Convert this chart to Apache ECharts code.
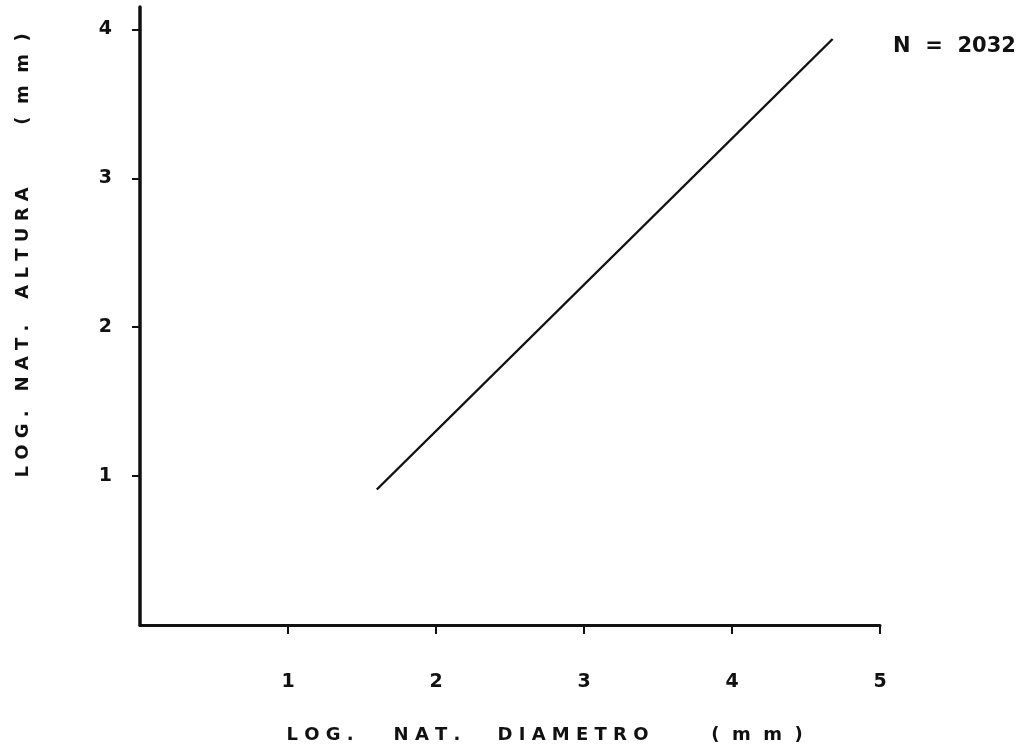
<!DOCTYPE html>
<html>
<head>
<meta charset="utf-8">
<script src="https://cdn.jsdelivr.net/npm/echarts@6/dist/echarts.min.js"></script>
<style>
  html, body { margin: 0; padding: 0; background: #fff; }
  #chart { width: 1031px; height: 748px; }
</style>
</head>
<body>
<div id="chart"></div>
<script>
// Fitted regression line: ln(altura) against ln(diametro)
const lineDiam = [1.60, 4.68];
const lineAltura = [0.91, 3.935];

// Tick labels shown on each axis
const xTicks = [1, 2, 3, 4, 5];
const yTicks = [1, 2, 3, 4];

// Axis titles, split into spaced words
const xTitleWords = ['L O G .', 'N A T .', 'D I A M E T R O', '(  m  m  )'];
const yTitleWords = ['L O G .', 'N A T .', 'A L T U R A', '(  m  m  )'];
const sampleNote = 'N  =  2032';

const FONT = '"DejaVu Sans", "Liberation Sans", sans-serif';
const INK = '#111';

const chart = echarts.init(document.getElementById('chart'), null, { renderer: 'canvas' });

const xTitleCenters = [320, 427, 573, 757];
const yTitleCenters = [444, 358, 243, 79];

const graphics = [];
xTitleWords.forEach((w, i) => {
  graphics.push({
    type: 'text', x: xTitleCenters[i], y: 735,
    style: { text: w, font: 'bold 18px ' + FONT, fill: INK, align: 'center', verticalAlign: 'middle' }
  });
});
yTitleWords.forEach((w, i) => {
  graphics.push({
    type: 'text', x: 23, y: yTitleCenters[i], rotation: Math.PI / 2,
    style: { text: w, font: 'bold 18px ' + FONT, fill: INK, align: 'center', verticalAlign: 'middle' }
  });
});
graphics.push({
  type: 'text', x: 893, y: 47,
  style: { text: sampleNote, font: 'bold 21px ' + FONT, fill: INK, align: 'left', verticalAlign: 'middle' }
});

chart.setOption({
  animation: false,
  backgroundColor: '#fff',
  grid: { left: 140, right: 151, top: 7, bottom: 123 },
  xAxis: {
    type: 'value', min: 0, max: 5, interval: 1,
    axisLine: { show: true, onZero: false, lineStyle: { color: INK, width: 3 } },
    axisTick: { show: true, customValues: xTicks, length: 9, lineStyle: { color: INK, width: 2 } },
    axisLabel: { customValues: xTicks, margin: 48, color: INK, fontSize: 19, fontWeight: 'bold', fontFamily: FONT },
    splitLine: { show: false }
  },
  yAxis: {
    type: 'value', min: 0, max: 4.15, interval: 1,
    axisLine: { show: true, onZero: false, lineStyle: { color: INK, width: 3.5 } },
    axisTick: { show: true, customValues: yTicks, length: 8, lineStyle: { color: INK, width: 2 } },
    axisLabel: { customValues: yTicks, margin: 28, color: INK, fontSize: 19, fontWeight: 'bold', fontFamily: FONT },
    splitLine: { show: false }
  },
  series: [{
    type: 'line',
    data: lineDiam.map((d, i) => [d, lineAltura[i]]),
    symbol: 'none',
    lineStyle: { color: INK, width: 2.4 },
    silent: true
  }],
  graphic: graphics
});
</script>
</body>
</html>
